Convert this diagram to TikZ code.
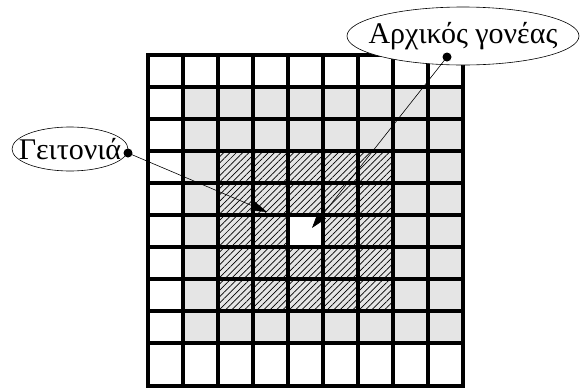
\documentclass[tikz,border=0pt]{standalone}
\usepackage{fontspec}
\setmainfont{Liberation Serif}
\usetikzlibrary{shapes.geometric,patterns.meta,arrows.meta}
\definecolor{cellgray}{gray}{0.9}
\tikzset{
  gridline/.style={line width=4pt},
  bubble/.style={ellipse,draw,fill=white,line width=0.6pt,inner xsep=-30pt,inner ysep=-12pt,
    font=\fontsize{30}{30}\selectfont},
  hatch/.style={pattern={Lines[angle=45,distance=4.5pt,line width=0.7pt]}},
  pointer/.style={line width=0.6pt,-{Triangle[length=16pt,width=10pt]}},
}
\begin{document}
\begin{tikzpicture}[x=1pt,y=-1pt]
\useasboundingbox (0,0) rectangle (582,389);
% gray ring
\foreach \c in {1,...,8}
  \foreach \r in {1,...,8}
    \fill[cellgray] (148+\c*35,55+\r*32) rectangle ++(35,32);
% hatched neighbourhood
\foreach \c in {2,...,6}
  \foreach \r in {3,...,7}
    \fill[hatch] (148+\c*35,55+\r*32) rectangle ++(35,32);
% start cell
\fill[white] (148+4*35,55+5*32) rectangle ++(35,32);
% grid
\foreach \c in {0,...,9}
  \draw[gridline] (148+\c*35,55) -- (148+\c*35,387);
\foreach \r in {0,...,9}
  \draw[gridline] (146,55+\r*32) -- (465,55+\r*32);
\draw[gridline] (146,386) -- (465,386);
% callouts
\node[bubble,minimum width=116pt,minimum height=44pt] (nbr) at (70,149) {Γειτονιά};
\node[bubble,minimum width=232pt,minimum height=58pt] (par) at (463,36) {Αρχικός γονέας};
\coordinate (nbrdot) at (128,153);
\coordinate (nbrtip) at (267,212);
\coordinate (pardot) at (447,57);
\coordinate (partip) at (312,228);
\fill (nbrdot) circle[radius=4.5];
\fill (pardot) circle[radius=4.5];
\draw[pointer] (nbrdot) -- (nbrtip);
\draw[pointer] (pardot) -- (partip);
\end{tikzpicture}
\end{document}
